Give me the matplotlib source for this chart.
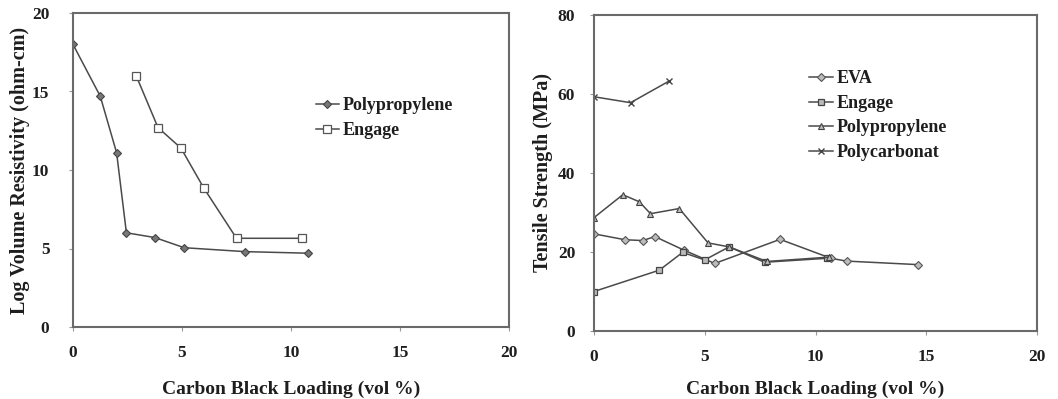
import matplotlib
matplotlib.use("Agg")
import matplotlib.pyplot as plt

# ---- Left panel: Log volume resistivity ----
pp_res_x = [0.0, 1.25, 2.0, 2.45, 3.75, 5.1, 7.9, 10.8]
pp_res_y = [18.0, 14.7, 11.1, 6.0, 5.7, 5.05, 4.8, 4.7]
eng_res_x = [2.9, 3.9, 4.95, 6.0, 7.5, 10.5]
eng_res_y = [16.0, 12.7, 11.4, 8.85, 5.65, 5.65]

# ---- Right panel: Tensile strength ----
eva_x = [0.0, 1.4, 2.2, 2.75, 4.05, 5.45, 8.4, 10.7, 11.4, 14.65]
eva_y = [24.6, 23.1, 22.9, 23.9, 20.5, 17.1, 23.2, 18.4, 17.7, 16.8]
eng_ts_x = [0.0, 2.95, 4.0, 5.0, 6.1, 7.7, 10.5]
eng_ts_y = [10.0, 15.4, 19.9, 18.0, 21.3, 17.4, 18.4]
pp_ts_x = [0.0, 1.3, 2.05, 2.55, 3.85, 5.15, 6.1, 7.8, 10.6]
pp_ts_y = [28.7, 34.5, 32.7, 29.7, 31.0, 22.3, 21.3, 17.6, 18.7]
pc_x = [0.0, 1.65, 3.4]
pc_y = [59.3, 57.8, 63.3]

x_ticks = [0, 5, 10, 15, 20]
left_y_ticks = [0, 5, 10, 15, 20]
right_y_ticks = [0, 20, 40, 60, 80]

plt.rcParams['font.family'] = ['Liberation Serif', 'DejaVu Serif']
plt.rcParams['font.weight'] = 'bold'

LINE = '#4a4a4a'
TEXT = '#1e1e1e'
SPINE = '#6a6a6a'

fig = plt.figure(figsize=(10.58, 3.99), dpi=100)
axL = fig.add_axes([73/1058, 1-327/399, 436/1058, 314/399])
axR = fig.add_axes([594/1058, 1-331/399, 443/1058, 316/399])

def style(ax, yticks, ylim, ylabel, ypad, xpad, xlabpad, ylab_x):
    ax.set_xlim(0, 20)
    ax.set_ylim(*ylim)
    ax.set_xticks(x_ticks)
    ax.set_yticks(yticks)
    ax.set_xticklabels([str(t) for t in x_ticks])
    ax.set_yticklabels([str(t) for t in yticks])
    for s in ax.spines.values():
        s.set_color(SPINE)
        s.set_linewidth(1.5)
    ax.tick_params(axis='both', colors='#999999', labelcolor=TEXT, labelsize=12.5,
                   length=3, width=0.8, direction='out')
    ax.tick_params(axis='y', pad=ypad)
    ax.tick_params(axis='x', pad=xpad)
    for lab in ax.get_xticklabels() + ax.get_yticklabels():
        lab.set_fontweight('bold')
    ax.set_xlabel('Carbon Black Loading (vol %)', fontsize=14, fontweight='bold',
                  color=TEXT, labelpad=xlabpad)
    ax.set_ylabel(ylabel, fontsize=14.5, fontweight='bold', color=TEXT)
    ax.yaxis.set_label_coords(ylab_x, 0.5)

# Left
axL.plot(pp_res_x, pp_res_y, color=LINE, lw=1.1, marker='D', ms=4.5,
         mfc='#777777', mec='#444444', mew=0.8, label='Polypropylene')
axL.plot(eng_res_x, eng_res_y, color=LINE, lw=1.1, marker='s', ms=5.5,
         mfc='white', mec='#555555', mew=0.9, label='Engage')
style(axL, left_y_ticks, (0, 20), 'Log Volume Resistivity (ohm-cm)', 14, 10, 14,
      (30 - 73) / 436)
axL.legend(loc='upper left', bbox_to_anchor=(0.54, 0.755), frameon=False,
           prop={'family': 'Liberation Serif', 'weight': 'bold', 'size': 13},
           handlelength=1.3, handletextpad=0.2, labelspacing=0.45, borderaxespad=0,
           labelcolor=TEXT)

# Right
axR.plot(eva_x, eva_y, color=LINE, lw=1.1, marker='D', ms=4.5,
         mfc='#bbbbbb', mec='#555555', mew=0.8, label='EVA')
axR.plot(eng_ts_x, eng_ts_y, color=LINE, lw=1.1, marker='s', ms=5,
         mfc='#bbbbbb', mec='#444444', mew=0.9, label='Engage')
axR.plot(pp_ts_x, pp_ts_y, color=LINE, lw=1.1, marker='^', ms=5,
         mfc='#bbbbbb', mec='#444444', mew=0.8, label='Polypropylene')
axR.plot(pc_x, pc_y, color=LINE, lw=1.1, marker='x', ms=5,
         mec='#444444', mew=1.0, label='Polycarbonat')
style(axR, right_y_ticks, (0, 80), 'Tensile Strength (MPa)', 10.5, 10, 11,
      (553 - 594) / 443)
axR.legend(loc='upper left', bbox_to_anchor=(0.47, 0.848), frameon=False,
           prop={'family': 'Liberation Serif', 'weight': 'bold', 'size': 13},
           handlelength=1.3, handletextpad=0.2, labelspacing=0.42, borderaxespad=0,
           labelcolor=TEXT)

fig.savefig('out.png', dpi=100)
